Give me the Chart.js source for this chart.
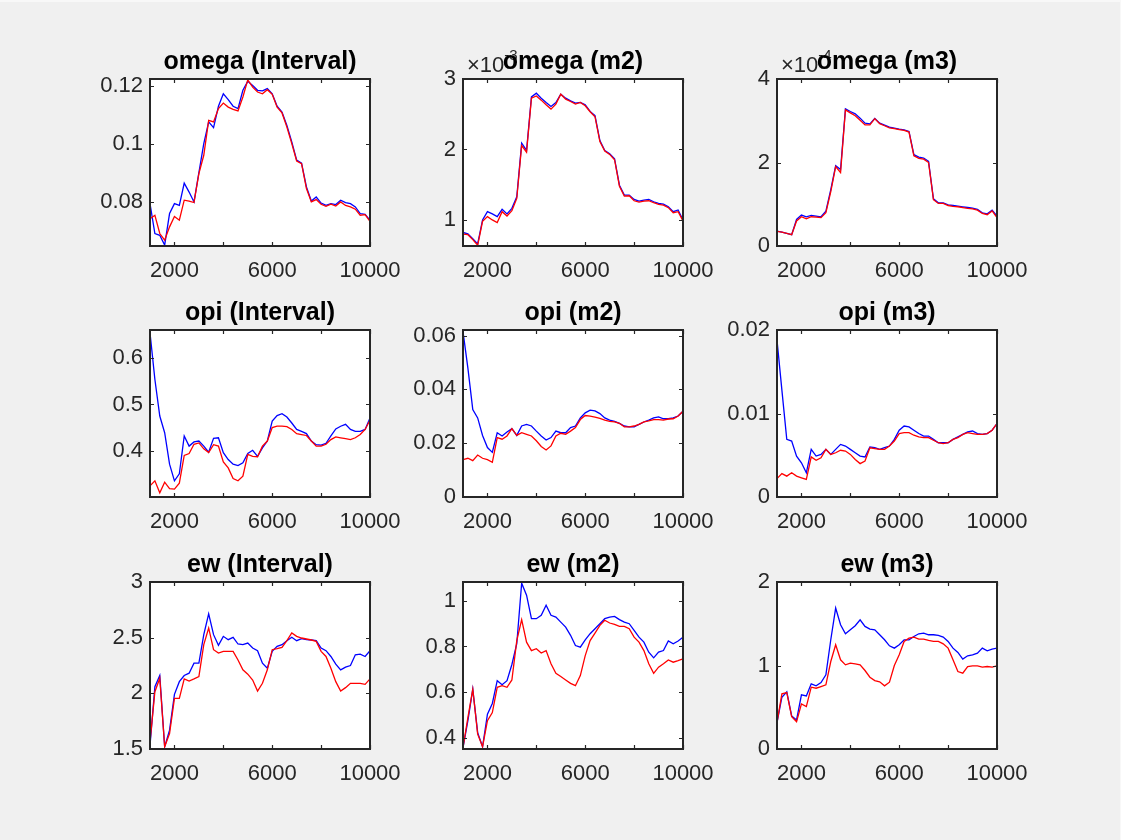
<!DOCTYPE html>
<html>
<head>
<meta charset="utf-8">
<title>Posterior draws</title>
<script src="https://cdn.jsdelivr.net/npm/chart.js@4.4.0/dist/chart.umd.min.js"></script>
<style>
  html, body { margin: 0; padding: 0; background: #f0f0f0; }
  #fig { position: relative; width: 1121px; height: 840px; background: #f0f0f0; overflow: hidden; }
  #fig canvas { position: absolute; }
  .edge { position: absolute; background: #f8f8f8; }
</style>
</head>
<body>
<div id="fig">
  <div class="edge" style="left:0;top:0;width:1121px;height:2px"></div>
  <div class="edge" style="right:0;top:0;width:1px;height:840px"></div>
</div>
<script>
// draw index (x) shared by all panels
var draws = [1000,1200,1400,1600,1800,2000,2200,2400,2600,2800,3000,3200,3400,3600,3800,4000,
  4200,4400,4600,4800,5000,5200,5400,5600,5800,6000,6200,6400,6600,6800,7000,7200,7400,7600,
  7800,8000,8200,8400,8600,8800,9000,9200,9400,9600,9800,10000];
var xTicks = [2000, 4000, 6000, 8000, 10000];
var xLabels = [2000, 6000, 10000];

// omega
var omegaIntBlue = [0.0793,0.0690,0.0684,0.0650,0.0759,0.0793,0.0787,0.0864,0.0833,0.0799,0.0900,0.1000,0.1075,0.1055,0.1129,0.1172,
  0.1152,0.1129,0.1121,0.1184,0.1215,0.1201,0.1184,0.1182,0.1190,0.1172,0.1129,0.1109,0.1063,0.1006,0.0943,0.0933,0.0851,0.0802,
  0.0816,0.0795,0.0787,0.0793,0.0790,0.0805,0.0797,0.0793,0.0782,0.0759,0.0756,0.0736];
var omegaIntRed = [0.0741,0.0753,0.0690,0.0667,0.0713,0.0749,0.0736,0.0805,0.0802,0.0797,0.0897,0.0960,0.1080,0.1075,0.1121,0.1140,
  0.1126,0.1118,0.1113,0.1161,0.1220,0.1195,0.1178,0.1172,0.1186,0.1170,0.1126,0.1106,0.1057,0.1000,0.0940,0.0931,0.0845,0.0799,
  0.0807,0.0791,0.0784,0.0791,0.0785,0.0799,0.0787,0.0782,0.0774,0.0753,0.0755,0.0732];
// omega m2, in units of 1e-3
var omegaM2Blue = [0.822,0.803,0.732,0.660,1.000,1.117,1.085,1.047,1.150,1.085,1.164,1.329,2.089,1.986,2.746,2.798,
  2.728,2.667,2.610,2.667,2.784,2.728,2.690,2.657,2.667,2.634,2.540,2.479,2.127,1.986,1.939,1.869,1.493,1.352,
  1.352,1.291,1.268,1.282,1.291,1.258,1.235,1.225,1.188,1.117,1.141,1.000];
var omegaM2Red = [0.800,0.790,0.720,0.640,0.980,1.047,1.000,0.962,1.117,1.056,1.131,1.305,2.056,1.962,2.728,2.760,
  2.700,2.634,2.573,2.643,2.784,2.714,2.681,2.643,2.667,2.620,2.535,2.465,2.113,1.977,1.930,1.854,1.479,1.338,
  1.343,1.272,1.254,1.268,1.272,1.244,1.221,1.211,1.174,1.103,1.117,0.986];
// omega m3, in units of 1e-4
var omegaM3Blue = [0.358,0.334,0.302,0.270,0.636,0.740,0.700,0.732,0.716,0.700,0.835,1.350,1.924,1.830,3.284,3.221,
  3.165,3.062,2.942,2.926,3.054,2.942,2.895,2.847,2.823,2.799,2.783,2.744,2.187,2.131,2.107,2.028,1.129,1.034,
  1.034,0.986,0.970,0.954,0.938,0.922,0.907,0.875,0.795,0.771,0.859,0.716];
var omegaM3Red = [0.350,0.330,0.300,0.270,0.600,0.700,0.650,0.700,0.690,0.680,0.800,1.300,1.900,1.760,3.260,3.190,
  3.120,3.010,2.900,2.900,3.050,2.930,2.880,2.830,2.810,2.790,2.770,2.730,2.160,2.100,2.080,2.000,1.110,1.020,
  1.020,0.970,0.950,0.940,0.920,0.900,0.890,0.860,0.780,0.750,0.840,0.680];

// opi
var opiIntBlue = [0.655,0.554,0.475,0.439,0.371,0.335,0.350,0.432,0.410,0.419,0.421,0.410,0.397,0.427,0.428,0.396,
  0.381,0.371,0.368,0.374,0.394,0.401,0.388,0.406,0.421,0.464,0.476,0.480,0.473,0.460,0.446,0.442,0.437,0.421,
  0.413,0.412,0.416,0.432,0.447,0.453,0.457,0.446,0.442,0.442,0.446,0.471];
var opiIntRed = [0.324,0.335,0.309,0.332,0.318,0.317,0.330,0.390,0.394,0.414,0.417,0.404,0.396,0.413,0.410,0.376,
  0.363,0.340,0.335,0.345,0.392,0.388,0.387,0.410,0.421,0.450,0.453,0.453,0.452,0.446,0.437,0.435,0.433,0.421,
  0.410,0.410,0.414,0.424,0.430,0.428,0.426,0.424,0.428,0.435,0.446,0.466];
var opiM2Blue = [0.0615,0.0479,0.0325,0.0294,0.0229,0.0184,0.0166,0.0239,0.0227,0.0242,0.0254,0.0229,0.0264,0.0270,0.0264,0.0245,
  0.0227,0.0212,0.0221,0.0245,0.0239,0.0239,0.0258,0.0264,0.0294,0.0313,0.0323,0.0320,0.0310,0.0294,0.0286,0.0281,0.0274,0.0264,
  0.0261,0.0261,0.0270,0.0279,0.0286,0.0294,0.0298,0.0291,0.0291,0.0294,0.0301,0.0319];
var opiM2Red = [0.0139,0.0144,0.0135,0.0156,0.0144,0.0139,0.0129,0.0221,0.0215,0.0227,0.0254,0.0229,0.0239,0.0233,0.0227,0.0209,
  0.0188,0.0175,0.0190,0.0227,0.0237,0.0233,0.0245,0.0258,0.0288,0.0303,0.0301,0.0297,0.0292,0.0286,0.0281,0.0279,0.0274,0.0261,
  0.0261,0.0264,0.0270,0.0279,0.0283,0.0288,0.0288,0.0286,0.0290,0.0291,0.0301,0.0319];
var opiM3Blue = [0.0188,0.0128,0.0069,0.0067,0.0049,0.0041,0.0029,0.0057,0.0049,0.0051,0.0057,0.0051,0.0057,0.0063,0.0061,0.0057,
  0.0053,0.0049,0.0048,0.0060,0.0059,0.0057,0.0059,0.0061,0.0069,0.0080,0.0085,0.0084,0.0080,0.0076,0.0073,0.0073,0.0069,0.0065,
  0.0065,0.0065,0.0069,0.0072,0.0075,0.0078,0.0079,0.0076,0.0075,0.0076,0.0080,0.0088];
var opiM3Red = [0.0022,0.0028,0.0025,0.0029,0.0025,0.0023,0.0021,0.0048,0.0044,0.0047,0.0057,0.0051,0.0053,0.0056,0.0055,0.0051,
  0.0045,0.0040,0.0043,0.0059,0.0058,0.0057,0.0057,0.0061,0.0067,0.0076,0.0077,0.0077,0.0074,0.0072,0.0071,0.0071,0.0068,0.0065,
  0.0064,0.0065,0.0069,0.0071,0.0075,0.0077,0.0076,0.0075,0.0075,0.0076,0.0080,0.0088];

// ew
var ewIntBlue = [1.533,2.060,2.160,1.520,1.669,1.991,2.105,2.160,2.181,2.271,2.271,2.527,2.714,2.527,2.431,2.512,
  2.482,2.503,2.443,2.437,2.452,2.407,2.383,2.271,2.226,2.377,2.422,2.437,2.473,2.503,2.473,2.491,2.482,2.479,
  2.473,2.407,2.383,2.331,2.262,2.211,2.235,2.250,2.346,2.352,2.331,2.383];
var ewIntRed = [1.563,2.015,2.136,1.520,1.639,1.955,1.955,2.130,2.111,2.130,2.151,2.437,2.587,2.392,2.361,2.377,
  2.377,2.377,2.300,2.211,2.172,2.120,2.020,2.090,2.211,2.392,2.401,2.413,2.473,2.542,2.512,2.497,2.488,2.479,
  2.467,2.377,2.331,2.226,2.105,2.021,2.051,2.090,2.090,2.090,2.081,2.130];
var ewM2Blue = [0.356,0.474,0.613,0.422,0.360,0.503,0.550,0.650,0.632,0.650,0.721,0.812,1.078,1.025,0.922,0.922,
  0.937,0.981,0.937,0.929,0.907,0.885,0.849,0.804,0.797,0.829,0.856,0.878,0.900,0.922,0.929,0.932,0.918,0.907,
  0.900,0.871,0.841,0.819,0.775,0.750,0.775,0.782,0.824,0.812,0.824,0.841];
var ewM2Red = [0.356,0.488,0.613,0.415,0.360,0.474,0.510,0.621,0.628,0.621,0.653,0.826,0.918,0.819,0.782,0.790,
  0.771,0.782,0.724,0.682,0.668,0.653,0.638,0.628,0.672,0.760,0.826,0.859,0.893,0.915,0.903,0.897,0.888,0.888,
  0.878,0.841,0.819,0.782,0.724,0.682,0.709,0.724,0.741,0.731,0.738,0.746];
var ewM3Blue = [0.316,0.620,0.684,0.396,0.348,0.648,0.636,0.780,0.756,0.796,0.888,1.308,1.688,1.488,1.380,1.428,
  1.476,1.548,1.468,1.436,1.428,1.368,1.308,1.236,1.208,1.248,1.308,1.308,1.348,1.380,1.388,1.368,1.368,1.360,
  1.340,1.288,1.208,1.156,1.076,1.116,1.128,1.148,1.208,1.176,1.196,1.208];
var ewM3Red = [0.316,0.660,0.676,0.388,0.328,0.540,0.508,0.740,0.728,0.748,0.768,1.048,1.248,1.068,1.008,1.028,
  1.020,1.008,0.940,0.860,0.820,0.804,0.756,0.800,1.000,1.128,1.288,1.328,1.340,1.316,1.316,1.300,1.288,1.288,
  1.260,1.208,1.068,0.928,0.908,0.988,0.996,0.996,0.980,0.988,0.980,0.996];

// y ticks (in displayed units)
var omegaIntTicks = [0.08, 0.1, 0.12];
var omegaM2Ticks = [1, 2, 3];
var omegaM3Ticks = [0, 2, 4];
var opiIntTicks = [0.4, 0.5, 0.6];
var opiM2Ticks = [0, 0.02, 0.04, 0.06];
var opiM3Ticks = [0, 0.01, 0.02];
var ewIntTicks = [1.5, 2, 2.5, 3];
var ewM2Ticks = [0.4, 0.6, 0.8, 1];
var ewM3Ticks = [0, 1, 2];

var panels = [
  { title: 'omega (Interval)', blue: omegaIntBlue, red: omegaIntRed, ticks: omegaIntTicks, ylim: [0.0647, 0.1223], power: 0 },
  { title: 'omega (m2)', blue: omegaM2Blue, red: omegaM2Red, ticks: omegaM2Ticks, ylim: [0.63, 3], power: -3 },
  { title: 'omega (m3)', blue: omegaM3Blue, red: omegaM3Red, ticks: omegaM3Ticks, ylim: [0, 4], power: -4 },
  { title: 'opi (Interval)', blue: opiIntBlue, red: opiIntRed, ticks: opiIntTicks, ylim: [0.30, 0.661], power: 0 },
  { title: 'opi (m2)', blue: opiM2Blue, red: opiM2Red, ticks: opiM2Ticks, ylim: [0, 0.0621], power: 0 },
  { title: 'opi (m3)', blue: opiM3Blue, red: opiM3Red, ticks: opiM3Ticks, ylim: [0, 0.02], power: 0 },
  { title: 'ew (Interval)', blue: ewIntBlue, red: ewIntRed, ticks: ewIntTicks, ylim: [1.5, 3], power: 0 },
  { title: 'ew (m2)', blue: ewM2Blue, red: ewM2Red, ticks: ewM2Ticks, ylim: [0.35, 1.083], power: 0 },
  { title: 'ew (m3)', blue: ewM3Blue, red: ewM3Red, ticks: ewM3Ticks, ylim: [0, 2], power: 0 }
];

// subplot grid
var colLeft = [150, 463, 777];
var rowTop = [79, 330, 582];
var axW = 70, padTop = 40, padRight = 50, xAxisH = 40, boxW = 220, boxH = 167;

var FONT = '"Liberation Sans", Arial, Helvetica, sans-serif';
var INK = '#262626';
Chart.defaults.font.family = FONT;
Chart.defaults.font.size = 22;
Chart.defaults.color = INK;

// white axes background, box outline and inward tick marks on all four sides
var axesBox = {
  id: 'axesBox',
  beforeDraw: function(chart) {
    var a = chart.chartArea, ctx = chart.ctx;
    ctx.save();
    ctx.fillStyle = '#ffffff';
    ctx.fillRect(a.left, a.top, a.right - a.left, a.bottom - a.top);
    ctx.restore();
  },
  afterDraw: function(chart) {
    var a = chart.chartArea, ctx = chart.ctx;
    var sx = chart.scales.x, sy = chart.scales.y, len = 4;
    ctx.save();
    ctx.strokeStyle = INK;
    ctx.lineWidth = 1.2;
    ctx.beginPath();
    sx.ticks.forEach(function(t) {
      var px = Math.round(sx.getPixelForValue(t.value)) + 0.5;
      ctx.moveTo(px, a.bottom); ctx.lineTo(px, a.bottom - len);
      ctx.moveTo(px, a.top); ctx.lineTo(px, a.top + len);
    });
    sy.ticks.forEach(function(t) {
      var py = Math.round(sy.getPixelForValue(t.value)) + 0.5;
      ctx.moveTo(a.left, py); ctx.lineTo(a.left + len, py);
      ctx.moveTo(a.right, py); ctx.lineTo(a.right - len, py);
    });
    ctx.stroke();
    ctx.lineWidth = 2;
    ctx.strokeRect(a.left, a.top, a.right - a.left, a.bottom - a.top);
    ctx.restore();
  }
};

// "x10^n" multiplier above the y axis, drawn first so the title sits over it
var exponentLabel = {
  id: 'exponentLabel',
  beforeDraw: function(chart, args, opts) {
    if (!opts.power) return;
    var a = chart.chartArea, ctx = chart.ctx;
    ctx.save();
    ctx.fillStyle = INK;
    ctx.textAlign = 'left';
    ctx.textBaseline = 'alphabetic';
    ctx.font = '22px ' + FONT;
    var base = '\u00d710';
    ctx.fillText(base, a.left + 4, a.top - 7);
    var w = ctx.measureText(base).width;
    ctx.font = '15px ' + FONT;
    ctx.fillText('-' + Math.abs(opts.power), a.left + 4 + w, a.top - 19);
    ctx.restore();
  }
};

// bold title centred over the axes box
var panelTitle = {
  id: 'panelTitle',
  afterDraw: function(chart, args, opts) {
    var a = chart.chartArea, ctx = chart.ctx;
    ctx.save();
    ctx.fillStyle = '#000000';
    ctx.textAlign = 'center';
    ctx.textBaseline = 'middle';
    ctx.font = 'bold 25px ' + FONT;
    ctx.fillText(opts.text, (a.left + a.right) / 2, a.top - 17);
    ctx.restore();
  }
};

function fmt(v) {
  return String(+v.toPrecision(4));
}

var fig = document.getElementById('fig');

panels.forEach(function(p, k) {
  var col = k % 3, row = Math.floor(k / 3);
  var scale = Math.pow(10, p.power);
  var canvas = document.createElement('canvas');
  var cw = axW + boxW + padRight, ch = padTop + boxH + xAxisH;
  canvas.width = cw;
  canvas.height = ch;
  canvas.style.width = cw + 'px';
  canvas.style.height = ch + 'px';
  canvas.style.left = (colLeft[col] - axW) + 'px';
  canvas.style.top = (rowTop[row] - padTop) + 'px';
  fig.appendChild(canvas);

  function series(vals) {
    return draws.map(function(d, i) { return { x: d, y: vals[i] * scale }; });
  }

  new Chart(canvas, {
    type: 'line',
    data: {
      datasets: [
        { data: series(p.blue), borderColor: '#0000ff', borderWidth: 1.3, pointRadius: 0, tension: 0, order: 1 },
        { data: series(p.red), borderColor: '#ff0000', borderWidth: 1.3, pointRadius: 0, tension: 0, order: 0 }
      ]
    },
    options: {
      responsive: false,
      animation: false,
      devicePixelRatio: 1,
      events: [],
      layout: { padding: { top: padTop, right: padRight, bottom: 0, left: 0 } },
      plugins: {
        legend: { display: false },
        tooltip: { enabled: false },
        title: { display: false },
        exponentLabel: { power: p.power },
        panelTitle: { text: p.title }
      },
      scales: {
        x: {
          type: 'linear',
          min: 1000,
          max: 10000,
          grid: { display: false, drawTicks: false },
          border: { display: false },
          afterBuildTicks: function(s) { s.ticks = xTicks.map(function(v) { return { value: v }; }); },
          afterFit: function(s) { s.height = xAxisH; },
          ticks: {
            autoSkip: false,
            maxRotation: 0,
            padding: 12,
            callback: function(v) { return xLabels.indexOf(v) >= 0 ? String(v) : ''; }
          }
        },
        y: {
          type: 'linear',
          min: p.ylim[0] * scale,
          max: p.ylim[1] * scale,
          grid: { display: false, drawTicks: false },
          border: { display: false },
          afterBuildTicks: function(s) { s.ticks = p.ticks.map(function(v) { return { value: v * scale }; }); },
          afterFit: function(s) { s.width = axW; },
          ticks: {
            padding: 7,
            callback: function(v) { return fmt(v / scale); }
          }
        }
      }
    },
    plugins: [axesBox, exponentLabel, panelTitle]
  });
});
</script>
</body>
</html>
